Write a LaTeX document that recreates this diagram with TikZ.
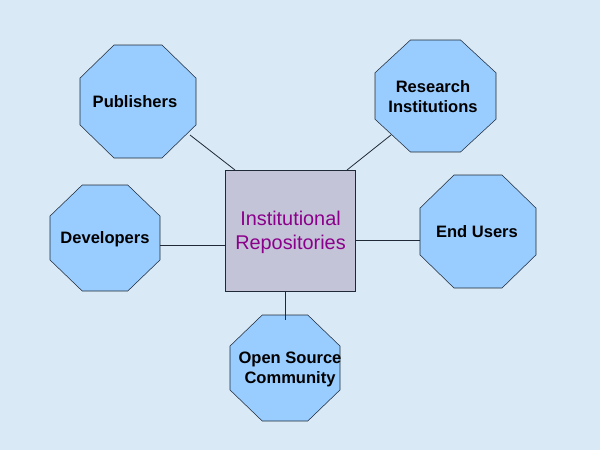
\documentclass[tikz,border=0pt]{standalone}
\usepackage{fontspec}
\setmainfont{Liberation Sans}
\usetikzlibrary{shapes.geometric}
\definecolor{bgblue}{HTML}{DAE9F6}
\definecolor{octblue}{HTML}{99CCFF}
\definecolor{boxgrey}{HTML}{C4C4D8}
\definecolor{boxtext}{HTML}{8B008B}
\definecolor{edgeline}{HTML}{1F2A36}
\tikzset{
    party/.style n args={2}{regular polygon,regular polygon sides=8,
        minimum size=100pt/0.92388,xscale=#1/100,yscale=#2/100,transform shape,
        draw=edgeline,fill=octblue,inner sep=0pt,outer sep=0pt},
    partytext/.style={align=center,inner sep=0pt,font=\fontsize{12.4}{15}\selectfont\bfseries},
    repo/.style={rectangle,draw=edgeline,fill=boxgrey,inner sep=0pt,outer sep=0pt},
    repotext/.style={align=center,inner sep=0pt,text=boxtext,font=\fontsize{14.9}{18}\selectfont},
    link/.style={draw=edgeline,line width=0.6pt}
}
\begin{document}
\begin{tikzpicture}[x=0.75pt,y=-0.75pt]
\useasboundingbox[fill=bgblue] (0,0) rectangle (600,450);
\node[repo,minimum width=97.5pt,minimum height=90.75pt] (repos) at (290.5,230.5) {};
\node[party={87}{84.75}] (publishers) at (138,101.5) {};
\node[party={90.75}{84}] (research) at (435.5,96) {};
\node[party={82.5}{79.5}] (developers) at (105,238) {};
\node[party={87}{84.75}] (endusers) at (478,231.5) {};
\node[party={82.5}{79.5}] (community) at (285,368) {};
\node[repotext] (repostext) at (290.5,232) {Institutional\\Repositories};
\node[partytext] (publisherstext) at (135,102) {Publishers};
\node[partytext] (researchtext) at (433,96.5) {Research\\Institutions};
\node[partytext] (developerstext) at (105,239) {Developers};
\node[partytext] (enduserstext) at (477,232) {End Users};
\node[partytext] (communitytext) at (290,369.5) {Open Source\\Community};
\coordinate (publishersend) at (190,135);
\coordinate (researchend) at (391,135);
\coordinate (communityend) at (285,320);
\draw[link] (publishersend) -- (repos.north -| 235,0);
\draw[link] (researchend) -- (repos.north -| 347,0);
\draw[link] (developers.east |- 0,245) -- (repos.west |- 0,245);
\draw[link] (repos.east |- 0,240) -- (endusers.west |- 0,240);
\draw[link] (repos.south -| communityend) -- (communityend);
\end{tikzpicture}
\end{document}
